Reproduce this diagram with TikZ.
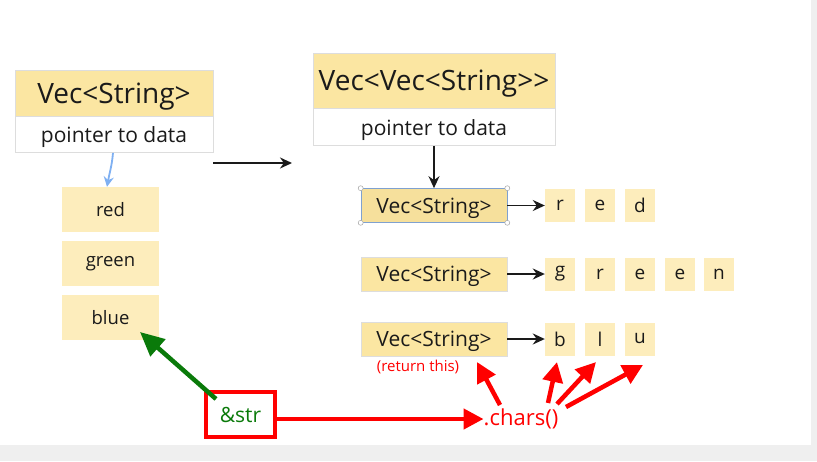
\documentclass[tikz,border=0pt]{standalone}
\usepackage{fontspec}
\setmainfont{Open Sans}
\usetikzlibrary{arrows.meta}
\definecolor{hdr}{HTML}{FBE6A2}
\definecolor{cell}{HTML}{FDEDBC}
\definecolor{selc}{HTML}{F6E09C}
\definecolor{edge}{HTML}{DDDDDD}
\definecolor{ink}{HTML}{1A1A1A}
\definecolor{redc}{HTML}{FF0000}
\definecolor{greenc}{HTML}{0A7A0A}
\definecolor{bluec}{HTML}{7FB0F2}
\definecolor{ui}{HTML}{EFEFEF}
\tikzset{
  hbox/.style={fill=hdr, draw=edge, line width=0.6pt, inner sep=0pt, text=ink, text depth=0pt},
  pbox/.style={fill=white, draw=edge, line width=0.6pt, inner sep=0pt, text=ink, text depth=0pt},
  strbox/.style={fill=cell, inner sep=0pt, minimum width=97pt, minimum height=45pt, text=ink, font=\fontsize{18.5}{20}\selectfont},
  vbox/.style={fill=hdr, draw=edge, line width=0.6pt, inner sep=0pt, minimum width=146pt, minimum height=34pt, text=ink, text depth=0pt, font=\fontsize{21}{24}\selectfont},
  cbox/.style={fill=cell, inner sep=0pt, minimum width=30pt, minimum height=33pt, text=ink, font=\fontsize{19}{22}\selectfont},
  blk/.style={draw=ink, line width=1.8pt, -{Stealth[length=12pt,width=11pt]}},
  redarr/.style={draw=redc, line width=4.5pt, -{Triangle[length=20pt,width=20pt]}},
  handle/.style={circle, draw=gray!70, fill=white, inner sep=0pt, minimum size=5pt, line width=0.5pt}
}
\begin{document}
\begin{tikzpicture}[x=1pt,y=-1pt]
\useasboundingbox (0,0) rectangle (817,461);
\fill[ui] (0,445) rectangle (817,461);
\fill[ui] (811,0) rectangle (817,461);
% left vector
\node[hbox, minimum width=198pt, minimum height=46pt, font=\fontsize{28}{32}\selectfont] (lh) at (114,93) {Vec<String>};
\node[pbox, minimum width=198pt, minimum height=36pt, font=\fontsize{21}{24}\selectfont, anchor=north] (lp) at (lh.south) {pointer to data};
\node[strbox] (red) at (110.5,209.5) {red};
\node[strbox] (green) at (110.5,263.5) {green};
\node[strbox] (blue) at (110.5,317.5) {blue};
\draw[bluec, line width=1.8pt, -{Stealth[length=10pt,width=10pt]}] (lp.south -| 113,0) to[out=-95,in=80] (red.north -| 107,0);
% middle arrow
\coordinate (ma) at (213,163);
\coordinate (mb) at (292,163);
\draw[blk] (ma) -- (mb);
% right vector
\node[hbox, minimum width=242pt, minimum height=55pt, font=\fontsize{28}{32}\selectfont] (rh) at (434,80.5) {Vec<Vec<String>{}>};
\node[pbox, minimum width=242pt, minimum height=37pt, font=\fontsize{21}{24}\selectfont, anchor=north] (rp) at (rh.south) {pointer to data};
\node[vbox, fill=selc, draw=bluec!70!gray] (v1) at (434,205.5) {Vec<String>};
\node[vbox] (v2) at (434,274) {Vec<String>};
\node[vbox] (v3) at (434,339) {Vec<String>};
\foreach \c in {north west,north east,south west,south east}{\node[handle] at (v1.\c) {};}
\draw[blk] (rp.south) -- (v1.north);
% letters
\node[cbox] (r1) at (560,205.5) {r};
\node[cbox] (e1) at (600,205.5) {e};
\node[cbox] (d1) at (640,205.5) {d};
\node[cbox] (g2) at (560,274) {g};
\node[cbox] (r2) at (600,274) {r};
\node[cbox] (e2) at (640,274) {e};
\node[cbox] (e3) at (680,274) {e};
\node[cbox] (n2) at (719,274) {n};
\node[cbox] (b3) at (560,339) {b};
\node[cbox] (l3) at (600,339) {l};
\node[cbox] (u3) at (640,339) {u};
\draw[blk] (v1.east) -- (r1.west);
\draw[blk] (v2.east) -- (g2.west);
\draw[blk] (v3.east) -- (b3.west);
% labels
\node[text=redc, font=\fontsize{15}{17}\selectfont, inner sep=0pt] (ret) at (418,367) {(return this)};
\node[draw=redc, line width=4pt, minimum width=69pt, minimum height=45pt, inner sep=0pt, text=greenc, font=\fontsize{21}{24}\selectfont] (str) at (240.5,414.5) {\&str};
\node[text=redc, font=\fontsize{22}{26}\selectfont, inner sep=0pt] (chars) at (521,419) {.chars()};
% green arrow
\coordinate (gs) at (216,399);
\coordinate (gt) at (140,332);
\draw[greenc, line width=4.5pt, -{Triangle[length=24pt,width=22pt]}] (gs) -- (gt);
% red arrows
\draw[redarr] (str.east |- chars.west) -- (chars.west);
\coordinate (c1) at (500,405);
\coordinate (c2) at (548,403);
\coordinate (c3) at (557,404);
\coordinate (c4) at (566,407);
\coordinate (t1) at (477,362);
\coordinate (t2) at (557,362);
\coordinate (t3) at (596,362);
\coordinate (t4) at (643,365);
\draw[redarr] (c1) -- (t1);
\draw[redarr] (c2) -- (t2);
\draw[redarr] (c3) -- (t3);
\draw[redarr] (c4) -- (t4);
\end{tikzpicture}
\end{document}
